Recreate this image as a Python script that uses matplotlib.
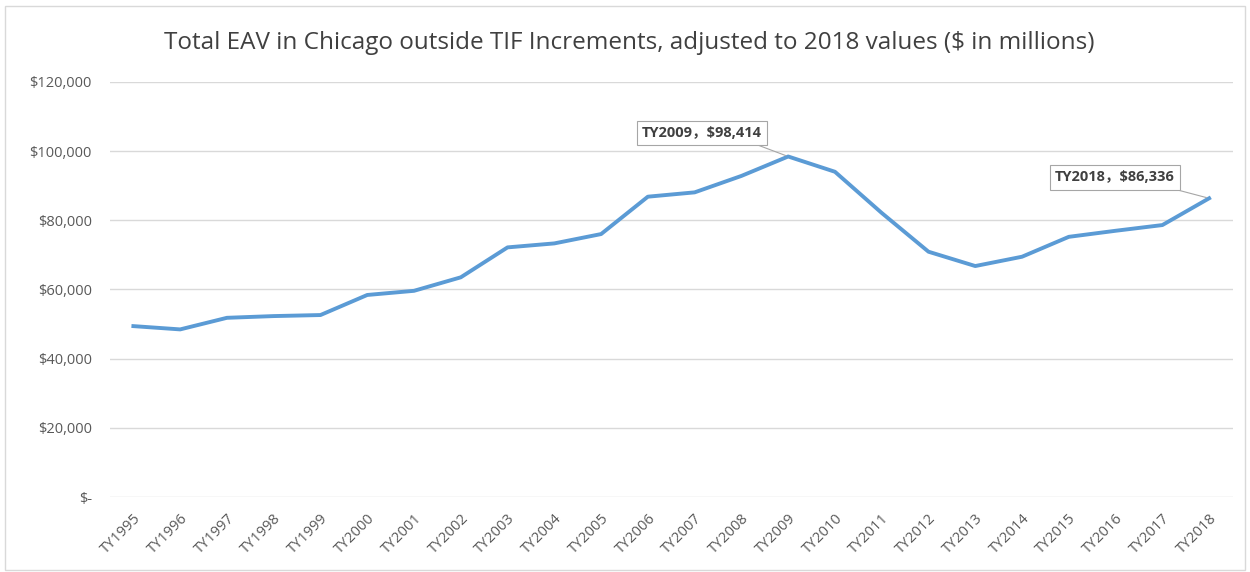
import matplotlib.pyplot as plt
from matplotlib.patches import Rectangle
from matplotlib.ticker import FuncFormatter

# data (in $ millions)
years = ['TY1995', 'TY1996', 'TY1997', 'TY1998', 'TY1999', 'TY2000', 'TY2001', 'TY2002',
         'TY2003', 'TY2004', 'TY2005', 'TY2006', 'TY2007', 'TY2008', 'TY2009', 'TY2010',
         'TY2011', 'TY2012', 'TY2013', 'TY2014', 'TY2015', 'TY2016', 'TY2017', 'TY2018']
eav = [49400, 48450, 51800, 52300, 52600, 58400, 59600, 63500,
       72150, 73300, 76000, 86800, 88050, 92800, 98414, 94000,
       82100, 70900, 66760, 69450, 75200, 76950, 78600, 86336]
labelled = ['TY2009', 'TY2018']

plt.rcParams['font.family'] = ['Open Sans', 'DejaVu Sans']

fig = plt.figure(figsize=(12.5, 5.72), dpi=100)
ax = fig.add_axes([0.088, 0.131, 0.898, 0.726])

# chart border
fig.patches.append(Rectangle((0.004, 0.004), 0.992, 0.985, transform=fig.transFigure,
                             fill=False, edgecolor='#d9d9d9', linewidth=1))

x = list(range(len(years)))
ax.plot(x, eav, color='#5b9bd5', linewidth=2.8, solid_joinstyle='round')

ax.set_xlim(-0.5, len(years) - 0.5)
ax.set_ylim(0, 120000)
ax.set_yticks(range(0, 120001, 20000))
ax.yaxis.set_major_formatter(FuncFormatter(lambda v, p: '$-' if v == 0 else f'${v:,.0f}'))
ax.set_xticks(x)
ax.set_xticklabels(years, rotation=45, ha='right', rotation_mode='anchor')
ax.tick_params(axis='both', length=0, labelsize=10.5, colors='#595959')
ax.tick_params(axis='y', pad=13)
ax.tick_params(axis='x', pad=10)
ax.grid(axis='y', color='#d9d9d9', linewidth=1)
ax.set_axisbelow(True)
for s in ax.spines.values():
    s.set_visible(False)

fig.text(0.503, 0.925,
         'Total EAV in Chicago outside TIF Increments, adjusted to 2018 values ($ in millions)',
         fontsize=17.5, color='#404040', ha='center', va='center')

# data labels
offsets = {'TY2009': (-62, 17), 'TY2018': (-68, 15)}
for name in labelled:
    i = years.index(name)
    ax.annotate(f'{name}，${eav[i]:,}', xy=(i, eav[i]), xytext=offsets[name],
                textcoords='offset points', ha='center', va='center',
                fontsize=10.5, fontweight='bold', color='#404040',
                family=['Open Sans', 'Noto Sans CJK SC', 'DejaVu Sans'],
                bbox=dict(boxstyle='square,pad=0.35', fc='white', ec='#a6a6a6', lw=0.8),
                arrowprops=dict(arrowstyle='-', color='#a6a6a6', lw=0.8,
                                relpos=(0.85, 0), shrinkA=0, shrinkB=2))

plt.savefig('out.png', dpi=100)
